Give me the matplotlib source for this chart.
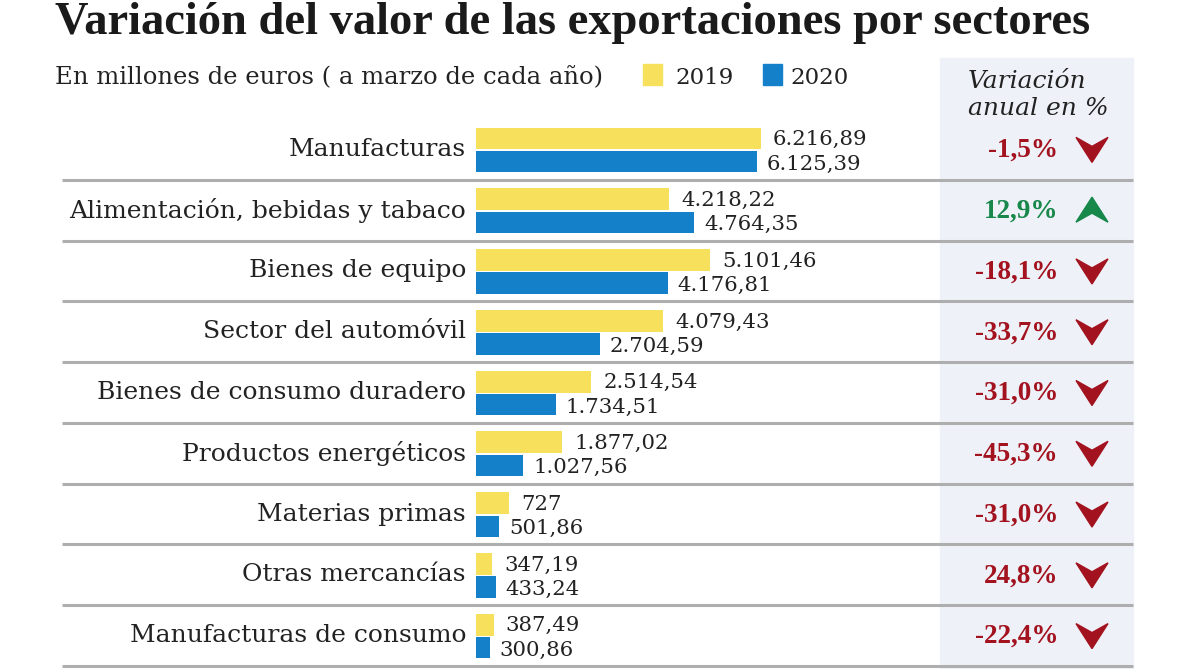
import numpy as np
import matplotlib.pyplot as plt
import matplotlib.transforms as mtransforms
from matplotlib.patches import Polygon, Rectangle

# Datos
sectores = ['Manufacturas', 'Alimentación, bebidas y tabaco', 'Bienes de equipo',
            'Sector del automóvil', 'Bienes de consumo duradero', 'Productos energéticos',
            'Materias primas', 'Otras mercancías', 'Manufacturas de consumo']
valores_2019 = [6216.89, 4218.22, 5101.46, 4079.43, 2514.54, 1877.02, 727, 347.19, 387.49]
valores_2020 = [6125.39, 4764.35, 4176.81, 2704.59, 1734.51, 1027.56, 501.86, 433.24, 300.86]
etiquetas_2019 = ['6.216,89', '4.218,22', '5.101,46', '4.079,43', '2.514,54', '1.877,02', '727', '347,19', '387,49']
etiquetas_2020 = ['6.125,39', '4.764,35', '4.176,81', '2.704,59', '1.734,51', '1.027,56', '501,86', '433,24', '300,86']
variacion = ['-1,5%', '12,9%', '-18,1%', '-33,7%', '-31,0%', '-45,3%', '-31,0%', '24,8%', '-22,4%']
flechas = ['down', 'up', 'down', 'down', 'down', 'down', 'down', 'down', 'down']

AMARILLO = '#f7e15c'
AZUL = '#1380c9'
ROJO = '#a3121f'
VERDE = '#17874a'
GRIS = '#aeaeae'
PANEL = '#eef2f8'

W, H = 1189, 669
fig = plt.figure(figsize=(W / 100, H / 100), dpi=100)
fig.patch.set_facecolor('white')

# capa de fondo en pixeles
bg = fig.add_axes([0, 0, 1, 1])
bg.set_xlim(0, W)
bg.set_ylim(H, 0)
bg.axis('off')
bg.add_patch(Rectangle((940, 58), 193, H - 58, color=PANEL, zorder=0))

# ejes de barras
top, bottom = 119, 666
ax = fig.add_axes([476 / W, (H - bottom) / H, (940 - 476) / W, (bottom - top) / H])
ax.patch.set_alpha(0)
ax.set_xlim(0, 464 / 0.04585)
n = len(sectores)
ax.set_ylim(n - 0.5, -0.5)
ax.axis('off')

y = np.arange(n)
ax.barh(y - 0.18, valores_2019, height=0.36, color=AMARILLO)
ax.barh(y + 0.2, valores_2020, height=0.35, color=AZUL)

serif = 'DejaVu Serif'
for i in range(n):
    ax.text(valores_2019[i], i - 0.16, etiquetas_2019[i], fontsize=15.3, family=serif,
            color='#222222', va='center', ha='left',
            transform=ax.transData + mtransforms.ScaledTranslation(12 / 100, 0, fig.dpi_scale_trans))
    ax.text(valores_2020[i], i + 0.24, etiquetas_2020[i], fontsize=15.3, family=serif,
            color='#222222', va='center', ha='left',
            transform=ax.transData + mtransforms.ScaledTranslation(10 / 100, 0, fig.dpi_scale_trans))

row_h = (bottom - top) / n
for i in range(n):
    cy = top + row_h * (i + 0.5)
    bg.text(466, cy, sectores[i], fontsize=18, family=serif, color='#222222',
            ha='right', va='center')
    # separador
    bg.plot([62, 1133], [top + row_h * (i + 1)] * 2, color=GRIS, lw=2.2, solid_capstyle='butt')
    col = VERDE if flechas[i] == 'up' else ROJO
    bg.text(1058, cy + 1, variacion[i], fontsize=19.5, family='Liberation Serif', fontweight='bold',
            color=col, ha='right', va='center')
    cx = 1092
    if flechas[i] == 'down':
        pts = [(cx - 16, cy - 12), (cx, cy - 3), (cx + 16, cy - 12), (cx, cy + 13)]
    else:
        pts = [(cx - 16, cy + 12), (cx, cy + 3), (cx + 16, cy + 12), (cx, cy - 13)]
    bg.add_patch(Polygon(pts, closed=True, color=col, zorder=3))

# titulo y subtitulo
bg.text(55, 34, 'Variación del valor de las exportaciones por sectores', fontsize=33.5,
        family='Liberation Serif', fontweight='bold', color='#1a1a1a', va='baseline', ha='left')
bg.text(55, 84, 'En millones de euros ( a marzo de cada año)', fontsize=17.5,
        family=serif, color='#222222', va='baseline', ha='left')

# leyenda
bg.add_patch(Rectangle((643, 64), 19, 21, color=AMARILLO))
bg.text(675, 84, '2019', fontsize=16.5, family=serif, color='#222222', va='baseline')
bg.add_patch(Rectangle((763, 64), 19, 21, color=AZUL))
bg.text(790, 84, '2020', fontsize=16.5, family=serif, color='#222222', va='baseline')

# cabecera del panel
bg.text(968, 88, 'Variación', fontsize=18, family=serif, style='italic', color='#222222', va='baseline')
bg.text(968, 115, 'anual en %', fontsize=18, family=serif, style='italic', color='#222222', va='baseline')

fig.savefig('out.png', dpi=100)
